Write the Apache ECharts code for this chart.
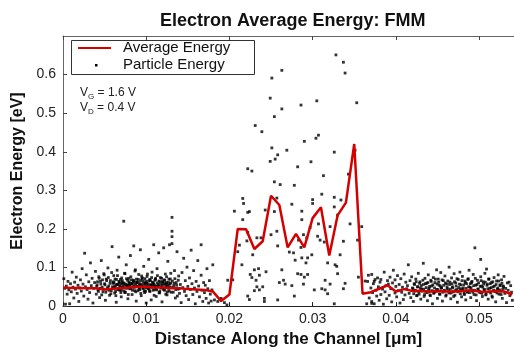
<!DOCTYPE html>
<html lang="en">
<head>
    <meta charset="UTF-8">
    <title>Electron Average Energy: FMM</title>
    <style>
        html, body { margin: 0; padding: 0; background: #fff; }
        .main { width: 514px; height: 353px; }
    </style>
    <script src="https://cdn.jsdelivr.net/npm/echarts@6/dist/echarts.min.js"></script>
</head>
<body>
    <div class="main"></div>
    <script>
        // average energy along the channel [um, eV]
        var avgEnergy = [
            [0.000, 0.048], [0.001, 0.047], [0.002, 0.047], [0.003, 0.046], [0.004, 0.046],
            [0.005, 0.043], [0.006, 0.045], [0.007, 0.047], [0.008, 0.048], [0.009, 0.050],
            [0.010, 0.050], [0.011, 0.048], [0.012, 0.048], [0.013, 0.046], [0.014, 0.046],
            [0.015, 0.044], [0.016, 0.043], [0.017, 0.042], [0.018, 0.038], [0.019, 0.013],
            [0.020, 0.030], [0.021, 0.200], [0.022, 0.199], [0.023, 0.148], [0.024, 0.168],
            [0.025, 0.286], [0.026, 0.262], [0.027, 0.152], [0.028, 0.187], [0.029, 0.152],
            [0.030, 0.228], [0.031, 0.256], [0.032, 0.131], [0.033, 0.235], [0.034, 0.268],
            [0.035, 0.420], [0.036, 0.032], [0.037, 0.036], [0.038, 0.045], [0.039, 0.054],
            [0.040, 0.038], [0.041, 0.044], [0.042, 0.039], [0.043, 0.040], [0.044, 0.037],
            [0.045, 0.039], [0.046, 0.038], [0.047, 0.038], [0.048, 0.039], [0.049, 0.041],
            [0.050, 0.038], [0.051, 0.037], [0.052, 0.039], [0.053, 0.038], [0.054, 0.030]
        ];

        // particles in the source region
        var particlesSource = [
            [0.0001,0.071],[0.0002,0.046],[0.0003,0.005],[0.0004,0.052],[0.0005,0.031],[0.0006,0.064],[0.0007,0.042],[0.0008,0.006],[0.0009,0.058],[0.0010,0.037],
            [0.0011,0.088],[0.0012,0.049],[0.0013,0.021],[0.0014,0.062],[0.0015,0.044],[0.0016,0.075],[0.0017,0.033],[0.0018,0.054],[0.0019,0.012],[0.0020,0.047],
            [0.0021,0.068],[0.0022,0.039],[0.0023,0.097],[0.0024,0.057],[0.0025,0.026],[0.0026,0.137],[0.0027,0.050],[0.0028,0.081],[0.0029,0.043],[0.0030,0.018],
            [0.0031,0.063],[0.0032,0.035],[0.0033,0.112],[0.0034,0.053],[0.0035,0.072],[0.0036,0.008],[0.0037,0.046],[0.0038,0.061],[0.0039,0.090],[0.0040,0.031],
            [0.0041,0.055],[0.0042,0.042],[0.0043,0.076],[0.0044,0.022],[0.0045,0.064],[0.0046,0.118],[0.0047,0.049],[0.0048,0.037],[0.0049,0.084],[0.0050,0.058],
            [0.0051,0.015],[0.0052,0.070],[0.0053,0.044],[0.0054,0.099],[0.0055,0.052],[0.0056,0.028],[0.0057,0.066],[0.0058,0.040],[0.0059,0.154],[0.0060,0.059],
            [0.0061,0.079],[0.0062,0.034],[0.0063,0.048],[0.0064,0.010],[0.0065,0.093],[0.0066,0.056],[0.0067,0.127],[0.0068,0.041],[0.0069,0.069],[0.0070,0.024],
            [0.0071,0.061],[0.0073,0.220],[0.0073,0.047],[0.0074,0.085],[0.0075,0.036],[0.0076,0.107],[0.0077,0.053],[0.0078,0.019],[0.0079,0.072],[0.0080,0.045],
            [0.0081,0.131],[0.0082,0.058],[0.0083,0.030],[0.0085,0.156],[0.0085,0.067],[0.0086,0.049],[0.0087,0.094],[0.0088,0.013],[0.0089,0.062],[0.0090,0.040],
            [0.0091,0.082],[0.0092,0.054],[0.0093,0.146],[0.0094,0.027],[0.0095,0.071],[0.0096,0.046],[0.0097,0.103],[0.0098,0.035],[0.0099,0.060],[0.0100,0.008],
            [0.0101,0.077],[0.0102,0.050],[0.0103,0.121],[0.0104,0.039],[0.0105,0.066],[0.0106,0.016],[0.0107,0.088],[0.0108,0.055],[0.0109,0.159],[0.0110,0.043],
            [0.0111,0.069],[0.0112,0.025],[0.0113,0.097],[0.0114,0.052],[0.0115,0.138],[0.0116,0.034],[0.0117,0.074],[0.0118,0.048],[0.0119,0.011],[0.0120,0.063],
            [0.0121,0.151],[0.0122,0.041],[0.0123,0.083],[0.0124,0.057],[0.0125,0.029],[0.0126,0.116],[0.0127,0.046],[0.0128,0.159],[0.0129,0.070],[0.0130,0.036],
            [0.0131,0.230],[0.0131,0.194],[0.0131,0.180],[0.0131,0.162],[0.0133,0.053],[0.0134,0.092],[0.0135,0.021],[0.0136,0.061],[0.0137,0.141],[0.0138,0.044],
            [0.0139,0.078],[0.0140,0.033],[0.0141,0.056],[0.0142,0.009],[0.0143,0.087],[0.0144,0.048],[0.0145,0.124],[0.0146,0.038],[0.0147,0.066],[0.0148,0.027],
            [0.0149,0.101],[0.0150,0.051],[0.0151,0.017],[0.0152,0.073],[0.0153,0.043],[0.0154,0.145],[0.0155,0.058],[0.0156,0.030],[0.0157,0.092],[0.0158,0.047],
            [0.0159,0.006],[0.0160,0.064],[0.0161,0.038],[0.0162,0.118],[0.0163,0.052],[0.0164,0.024],[0.0166,0.159],[0.0166,0.080],[0.0167,0.041],[0.0168,0.012],
            [0.0169,0.061],[0.0170,0.035],[0.0171,0.054],[0.0172,0.020],[0.0173,0.097],[0.0174,0.045],[0.0175,0.008],[0.0176,0.066],[0.0177,0.031],[0.0178,0.013],
            [0.0179,0.042],[0.0180,0.107],
            [0.00405,0.051],[0.00415,0.063],[0.00425,0.038],[0.00435,0.072],[0.00445,0.046],[0.00455,0.057],[0.00465,0.029],[0.00475,0.068],[0.00485,0.044],[0.00495,0.081],
            [0.00505,0.055],[0.00515,0.036],[0.00525,0.066],[0.00535,0.048],[0.00545,0.074],[0.00555,0.041],[0.00565,0.059],[0.00575,0.032],[0.00585,0.087],[0.00595,0.050],
            [0.00605,0.063],[0.00615,0.045],[0.00625,0.070],[0.00635,0.027],[0.00645,0.056],[0.00655,0.079],[0.00665,0.043],[0.00675,0.061],[0.00685,0.052],[0.00695,0.035],
            [0.00705,0.073],[0.00715,0.049],[0.00725,0.058],[0.00735,0.039],[0.00745,0.084],[0.00755,0.054],[0.00765,0.046],[0.00775,0.067],[0.00785,0.030],[0.00795,0.060],
            [0.00805,0.048],[0.00815,0.076],[0.00825,0.057],[0.00835,0.041],[0.00845,0.065],[0.00855,0.053],[0.00865,0.091],[0.00875,0.037],[0.00885,0.062],[0.00895,0.050],
            [0.00905,0.069],[0.00915,0.044],[0.00925,0.058],[0.00935,0.033],[0.00945,0.078],[0.00955,0.052],[0.00965,0.064],[0.00975,0.040],[0.00985,0.071],[0.00995,0.047],
            [0.01005,0.059],[0.01015,0.083],[0.01025,0.045],[0.01035,0.066],[0.01045,0.038],[0.01055,0.055],[0.01065,0.074],[0.01075,0.049],[0.01085,0.061],[0.01095,0.028],
            [0.01105,0.067],[0.01115,0.051],[0.01125,0.042],[0.01135,0.079],[0.01145,0.056],[0.01155,0.035],[0.01165,0.063],[0.01175,0.047],[0.01185,0.072],[0.01195,0.053],
            [0.01205,0.044],[0.01215,0.068],[0.01225,0.058],[0.01235,0.031],[0.01245,0.076],[0.01255,0.050],[0.01265,0.062],[0.01275,0.039],[0.01285,0.057],[0.01295,0.085],
            [0.01305,0.048],[0.01315,0.065],[0.01325,0.036],[0.01335,0.059],[0.01345,0.071],[0.01355,0.043],[0.01365,0.054],[0.01375,0.026],[0.01385,0.067],[0.01395,0.045],
            [0.00603,0.047],[0.00613,0.061],[0.00623,0.053],[0.00633,0.038],[0.00643,0.069],[0.00653,0.056],[0.00663,0.044],[0.00673,0.064],[0.00683,0.050],[0.00693,0.058],
            [0.00703,0.041],[0.00713,0.066],[0.00723,0.052],[0.00733,0.060],[0.00743,0.035],[0.00753,0.057],[0.00763,0.071],[0.00773,0.048],[0.00783,0.055],[0.00793,0.063],
            [0.00803,0.054],[0.00813,0.045],[0.00823,0.068],[0.00833,0.059],[0.00843,0.049],[0.00853,0.062],[0.00863,0.040],[0.00873,0.057],[0.00883,0.070],[0.00893,0.052],
            [0.00903,0.061],[0.00913,0.050],[0.00923,0.043],[0.00933,0.066],[0.00943,0.056],[0.00953,0.073],[0.00963,0.047],[0.00973,0.059],[0.00983,0.054],[0.00993,0.038],
            [0.01003,0.064],[0.01013,0.052],[0.01023,0.058],[0.01033,0.045],[0.01043,0.069],[0.01053,0.055],[0.01063,0.049],[0.01073,0.062],[0.01083,0.041],[0.01093,0.057],
            [0.01103,0.053],[0.01113,0.072],[0.01123,0.046],[0.01133,0.060],[0.01143,0.051],[0.01153,0.065],[0.01163,0.039],[0.01173,0.056],[0.01183,0.048],[0.01193,0.063],
            [0.01203,0.058],[0.01213,0.044],[0.01223,0.067],[0.01233,0.052],[0.01243,0.061],[0.01253,0.037],[0.01263,0.055],[0.01273,0.070],[0.01283,0.049],[0.01293,0.060]
        ];

        // particles in the channel (hot region)
        var particlesChannel = [
            [0.0328,0.651],[0.0337,0.632],[0.0339,0.604],[0.0263,0.611],[0.0251,0.591],[0.0249,0.539],[0.0263,0.511],[0.0286,0.521],[0.0305,0.532],[0.0353,0.527],
            [0.0254,0.491],[0.0231,0.468],[0.0239,0.452],[0.0307,0.443],[0.0304,0.435],[0.0290,0.427],[0.0251,0.410],[0.0269,0.404],[0.0258,0.392],[0.0326,0.399],
            [0.0255,0.381],[0.0249,0.375],[0.0298,0.374],[0.0282,0.361],[0.0222,0.356],[0.0227,0.350],[0.0351,0.404],[0.0313,0.338],[0.0343,0.342],[0.0254,0.322],
            [0.0261,0.315],[0.0278,0.313],[0.0311,0.290],[0.0216,0.279],[0.0217,0.266],[0.0257,0.280],[0.0275,0.264],[0.0300,0.276],[0.0300,0.266],[0.0326,0.282],
            [0.0334,0.275],[0.0326,0.257],[0.0243,0.249],[0.0254,0.245],[0.0206,0.246],[0.0224,0.245],[0.0287,0.246],[0.0216,0.224],[0.0287,0.224],[0.0330,0.236],
            [0.0307,0.213],[0.0297,0.204],[0.0321,0.206],[0.0345,0.213],[0.0359,0.206],[0.0257,0.194],[0.0250,0.185],[0.0222,0.191],[0.0233,0.177],[0.0238,0.177],
            [0.0289,0.185],[0.0293,0.177],[0.0306,0.181],[0.0221,0.169],[0.0212,0.158],[0.0258,0.156],[0.0314,0.166],[0.0309,0.171],[0.0283,0.171],[0.0337,0.168],
            [0.0354,0.171],[0.0210,0.141],[0.0228,0.133],[0.0272,0.140],[0.0277,0.138],[0.0286,0.152],[0.0299,0.133],[0.0294,0.125],[0.0287,0.125],[0.0279,0.119],
            [0.0292,0.112],[0.0333,0.133],[0.0318,0.112],[0.0327,0.107],[0.0329,0.103],[0.0215,0.107],[0.0235,0.097],[0.0230,0.094],[0.0263,0.094],[0.0244,0.089],
            [0.0282,0.084],[0.0286,0.082],[0.0294,0.082],[0.0330,0.084],[0.0225,0.082],[0.0236,0.080],[0.0227,0.074],[0.0232,0.067],[0.0265,0.067],[0.0290,0.075],
            [0.0315,0.067],[0.0198,0.067],[0.0260,0.061],[0.0267,0.057],[0.0289,0.057],[0.0321,0.057],[0.0339,0.059],[0.0374,0.064],[0.0363,0.065],[0.0233,0.050],
            [0.0240,0.050],[0.0275,0.053],[0.0230,0.040],[0.0236,0.042],[0.0302,0.042],[0.0311,0.045],[0.0315,0.042],[0.0337,0.045],[0.0222,0.026],[0.0224,0.017],
            [0.0278,0.026],[0.0242,0.020],[0.0242,0.012],[0.0258,0.016],[0.0318,0.032],[0.0326,0.006],[0.0190,0.020],[0.0194,0.009],[0.0197,0.003],[0.0182,0.016],
            [0.0186,0.012],[0.0365,0.006],[0.0371,0.007],[0.0355,0.075],[0.0204,0.068],[0.0222,0.243]
        ];

        // particles in the drain region
        var particlesDrain = [
            [0.0366,0.064],[0.0367,0.080],[0.0368,0.021],[0.0371,0.082],[0.0370,0.047],[0.0371,0.012],[0.0372,0.035],[0.0373,0.058],[0.0374,0.006],[0.0375,0.069],
            [0.0376,0.041],[0.0377,0.026],[0.0378,0.073],[0.0379,0.050],[0.0380,0.015],[0.0381,0.062],[0.0382,0.030],[0.0382,0.069],[0.0384,0.044],[0.0385,0.005],
            [0.0386,0.088],[0.0387,0.037],[0.0388,0.053],[0.0389,0.019],[0.0390,0.066],[0.0391,0.057],[0.0392,0.028],[0.0393,0.075],[0.0394,0.045],[0.0395,0.011],
            [0.0396,0.060],[0.0397,0.093],[0.0399,0.068],[0.0399,0.034],[0.0400,0.051],[0.0401,0.024],[0.0402,0.079],[0.0403,0.040],[0.0404,0.056],[0.0405,0.008],
            [0.0406,0.071],[0.0407,0.036],[0.0408,0.049],[0.0409,0.017],[0.0410,0.083],[0.0411,0.029],[0.0412,0.062],[0.0413,0.045],[0.0414,0.053],[0.0415,0.107],
            [0.0416,0.033],[0.0417,0.066],[0.0418,0.022],[0.0419,0.076],[0.0420,0.047],[0.0421,0.012],[0.0422,0.058],[0.0423,0.039],[0.0424,0.070],[0.0425,0.027],
            [0.0426,0.050],[0.0427,0.085],[0.0428,0.031],[0.0429,0.063],[0.0430,0.018],[0.0431,0.044],[0.0433,0.111],[0.0433,0.056],[0.0434,0.025],[0.0435,0.072],
            [0.0436,0.038],[0.0437,0.059],[0.0438,0.014],[0.0439,0.081],[0.0440,0.046],[0.0441,0.029],[0.0442,0.067],[0.0443,0.052],[0.0444,0.006],[0.0445,0.074],
            [0.0446,0.035],[0.0447,0.061],[0.0449,0.094],[0.0449,0.043],[0.0450,0.020],[0.0451,0.070],[0.0452,0.054],[0.0453,0.031],[0.0454,0.087],[0.0455,0.048],
            [0.0456,0.013],[0.0457,0.066],[0.0458,0.039],[0.0459,0.078],[0.0460,0.026],[0.0461,0.057],[0.0462,0.045],[0.0464,0.101],[0.0464,0.034],[0.0465,0.062],
            [0.0466,0.019],[0.0467,0.073],[0.0468,0.050],[0.0469,0.037],[0.0470,0.084],[0.0471,0.028],[0.0472,0.060],[0.0473,0.043],[0.0474,0.010],[0.0475,0.069],
            [0.0477,0.088],[0.0477,0.041],[0.0478,0.055],[0.0479,0.024],[0.0480,0.077],[0.0481,0.047],[0.0482,0.033],[0.0483,0.065],[0.0484,0.016],[0.0485,0.058],
            [0.0486,0.036],[0.0487,0.071],[0.0488,0.093],[0.0489,0.049],[0.0490,0.022],[0.0491,0.061],[0.0492,0.040],[0.0493,0.082],[0.0494,0.030],[0.0495,0.151],
            [0.0496,0.054],[0.0497,0.014],[0.0498,0.067],[0.0499,0.044],[0.0502,0.121],[0.0501,0.035],[0.0502,0.076],[0.0503,0.052],[0.0504,0.025],[0.0505,0.063],
            [0.0506,0.042],[0.0507,0.085],[0.0508,0.029],[0.0509,0.096],[0.0510,0.057],[0.0511,0.018],[0.0512,0.070],[0.0513,0.046],[0.0514,0.034],[0.0515,0.061],
            [0.0516,0.023],[0.0517,0.050],[0.0518,0.074],[0.0519,0.038],[0.0520,0.011],[0.0521,0.065],[0.0522,0.044],[0.0523,0.081],[0.0524,0.031],[0.0525,0.055],
            [0.0526,0.039],[0.0527,0.068],[0.0528,0.020],[0.0529,0.052],[0.0530,0.077],[0.0531,0.033],[0.0532,0.046],[0.0533,0.009],[0.0534,0.060],[0.0535,0.041],
            [0.0536,0.062],[0.0537,0.027],[0.0538,0.053],[0.0539,0.036],[0.0540,0.015],
            [0.04205,0.045],[0.04215,0.032],[0.04225,0.056],[0.04235,0.041],[0.04245,0.063],[0.04255,0.028],[0.04265,0.050],[0.04275,0.037],[0.04285,0.059],[0.04295,0.046],
            [0.04305,0.053],[0.04315,0.039],[0.04325,0.067],[0.04335,0.044],[0.04345,0.030],[0.04355,0.058],[0.04365,0.048],[0.04375,0.035],[0.04385,0.061],[0.04395,0.042],
            [0.04405,0.051],[0.04415,0.027],[0.04425,0.064],[0.04435,0.040],[0.04445,0.055],[0.04455,0.033],[0.04465,0.047],[0.04475,0.070],[0.04485,0.038],[0.04495,0.057],
            [0.04505,0.043],[0.04515,0.062],[0.04525,0.031],[0.04535,0.052],[0.04545,0.046],[0.04555,0.068],[0.04565,0.036],[0.04575,0.054],[0.04585,0.041],[0.04595,0.060],
            [0.04605,0.029],[0.04615,0.049],[0.04625,0.065],[0.04635,0.039],[0.04645,0.056],[0.04655,0.044],[0.04665,0.034],[0.04675,0.058],[0.04685,0.047],[0.04695,0.025],
            [0.04705,0.063],[0.04715,0.040],[0.04725,0.052],[0.04735,0.071],[0.04745,0.037],[0.04755,0.048],[0.04765,0.057],[0.04775,0.032],[0.04785,0.045],[0.04795,0.066],
            [0.04805,0.042],[0.04815,0.055],[0.04825,0.030],[0.04835,0.061],[0.04845,0.046],[0.04855,0.038],[0.04865,0.069],[0.04875,0.050],[0.04885,0.035],[0.04895,0.058],
            [0.04905,0.047],[0.04915,0.064],[0.04925,0.036],[0.04935,0.053],[0.04945,0.041],[0.04955,0.072],[0.04965,0.029],[0.04975,0.056],[0.04985,0.044],[0.04995,0.060],
            [0.05005,0.038],[0.05015,0.051],[0.05025,0.066],[0.05035,0.033],[0.05045,0.049],[0.05055,0.057],[0.05065,0.043],[0.05075,0.062],[0.05085,0.031],[0.05095,0.054],
            [0.05105,0.045],[0.05115,0.070],[0.05125,0.037],[0.05135,0.058],[0.05145,0.048],[0.05155,0.026],[0.05165,0.063],[0.05175,0.041],[0.05185,0.052],[0.05195,0.039],
            [0.05205,0.056],[0.05215,0.034],[0.05225,0.047],[0.05235,0.065],[0.05245,0.042],[0.05255,0.053],[0.05265,0.030],[0.05275,0.059],[0.05285,0.044],[0.05295,0.050]
        ];

        var xTicks = { min: 0, max: 0.0542, interval: 0.01 };
        var yTicks = { min: 0, max: 0.7, interval: 0.1 };

        var font = '"Liberation Sans", Arial, Helvetica, sans-serif';
        var myChart = echarts.init(document.querySelector('.main'));

        var option = {
            animation: false,
            backgroundColor: '#fff',
            title: {
                text: 'Electron Average Energy: FMM',
                left: 155,
                top: 7,
                textStyle: { fontFamily: font, fontSize: 18, fontWeight: 'bold', color: '#111' }
            },
            grid: { left: 63, top: 36, right: -1, bottom: 35 },
            xAxis: [{
                type: 'value',
                position: 'bottom',
                min: xTicks.min, max: xTicks.max, interval: xTicks.interval,
                name: 'Distance Along the Channel [\u03bcm]',
                nameLocation: 'middle',
                nameGap: 18,
                nameTextStyle: { fontFamily: font, fontSize: 17, fontWeight: 'bold', color: '#111' },
                axisLine: { show: true, lineStyle: { color: '#222', width: 1 } },
                axisTick: { inside: true, length: 4, lineStyle: { color: '#222' } },
                axisLabel: { showMaxLabel: false, margin: 6, fontFamily: font, fontSize: 14, color: '#222' },
                splitLine: { show: false }
            }, {
                type: 'value',
                position: 'top',
                min: xTicks.min, max: xTicks.max, interval: xTicks.interval,
                axisLine: { show: true, lineStyle: { color: '#666', width: 1 } },
                axisTick: { inside: true, length: 4, lineStyle: { color: '#444' } },
                axisLabel: { show: false },
                splitLine: { show: false }
            }],
            yAxis: {
                type: 'value',
                min: yTicks.min, max: yTicks.max, interval: yTicks.interval,
                name: 'Electron Energy [eV]',
                nameLocation: 'middle',
                nameGap: 36,
                nameTextStyle: { fontFamily: font, fontSize: 16, fontWeight: 'bold', color: '#111' },
                axisLine: { show: true, lineStyle: { color: '#666', width: 1 } },
                axisTick: { inside: true, length: 4, lineStyle: { color: '#444' } },
                axisLabel: { showMaxLabel: false, margin: 7, fontFamily: font, fontSize: 14, color: '#222' },
                splitLine: { show: false }
            },
            series: [{
                name: 'Particle Energy',
                type: 'scatter',
                symbol: 'rect',
                symbolSize: 2.8,
                itemStyle: { color: '#000' },
                silent: true,
                z: 1,
                data: particlesSource.concat(particlesChannel, particlesDrain)
            }, {
                name: 'Average Energy',
                type: 'line',
                showSymbol: false,
                symbol: 'none',
                lineStyle: { color: '#d40000', width: 2.5 },
                z: 3,
                data: avgEnergy
            }],
            graphic: [
                // legend box
                { type: 'rect', z: 10, shape: { x: 71.5, y: 40.5, width: 183, height: 34 },
                  style: { fill: '#fff', stroke: '#333', lineWidth: 1 } },
                { type: 'line', z: 11, shape: { x1: 78, y1: 48, x2: 111, y2: 48 },
                  style: { stroke: '#d40000', lineWidth: 2 } },
                { type: 'text', z: 11, left: 123, top: 40,
                  style: { text: 'Average Energy', font: '15px ' + font, fill: '#111' } },
                { type: 'rect', z: 11, shape: { x: 95, y: 64, width: 2.5, height: 2.5 }, style: { fill: '#000' } },
                { type: 'text', z: 11, left: 123, top: 57,
                  style: { text: 'Particle Energy', font: '15px ' + font, fill: '#111' } },
                // bias annotation
                { type: 'text', z: 11, left: 80, top: 87,
                  style: {
                      text: '{v|V}{s|G}{v| = 1.6 V}',
                      rich: {
                          v: { fontFamily: font, fontSize: 12, fill: '#222' },
                          s: { fontFamily: font, fontSize: 8, fill: '#222', padding: [8, 0, 0, 0] }
                      }
                  } },
                { type: 'text', z: 11, left: 80, top: 102,
                  style: {
                      text: '{v|V}{s|D}{v| = 0.4 V}',
                      rich: {
                          v: { fontFamily: font, fontSize: 12, fill: '#222' },
                          s: { fontFamily: font, fontSize: 8, fill: '#222', padding: [8, 0, 0, 0] }
                      }
                  } }
            ]
        };

        myChart.setOption(option);
    </script>
</body>
</html>
